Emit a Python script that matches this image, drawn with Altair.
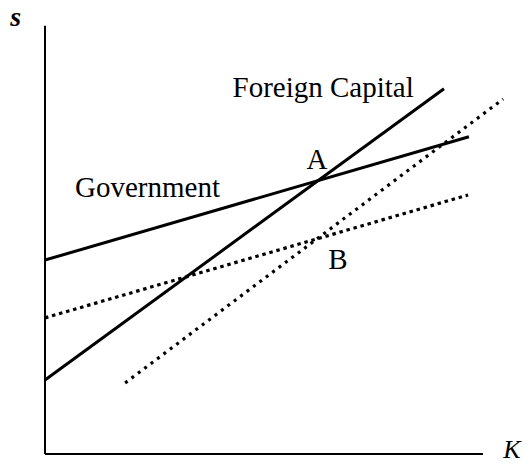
import altair as alt
import pandas as pd

# Line endpoints (K, s) (abstract units, axes run 0..10)
line_names = ["Government", "Foreign Capital", "Government shifted", "Foreign Capital shifted"]
k_start = [0.0, 0.0, 0.0, 1.83]
s_start = [4.53, 1.73, 3.18, 1.66]
k_end = [9.68, 9.11, 9.66, 10.46]
s_end = [7.41, 8.53, 6.05, 8.29]
dashes = [[1, 0], [1, 0], [3.5, 3.8], [3, 5]]

# Axis extents
axis_k_max = 10.0
axis_s_max = 10.0

# Labels
label_text = ["Foreign Capital", "Government", "A", "B"]
label_k = [6.35, 2.34, 6.21, 6.69]
label_s = [8.34, 6.00, 6.66, 4.32]

FONT = "Liberation Serif"
xs = alt.Scale(domain=[0, 10.8], nice=False, zero=False)
ys = alt.Scale(domain=[0, 10.3], nice=False, zero=False)

layers = []

# axes
axes_df = pd.DataFrame({"k": [0, 0], "s": [0, 0], "k2": [0, axis_k_max], "s2": [axis_s_max, 0]})
layers.append(
    alt.Chart(axes_df).mark_rule(color="black", strokeWidth=2, clip=False).encode(
        x=alt.X("k:Q", scale=xs, axis=None),
        y=alt.Y("s:Q", scale=ys, axis=None),
        x2="k2:Q",
        y2="s2:Q",
    )
)

for i, name in enumerate(line_names):
    df = pd.DataFrame({"k": [k_start[i], k_end[i]], "s": [s_start[i], s_end[i]], "name": [name, name]})
    mk = dict(color="black", strokeWidth=3, clip=False, strokeCap="butt")
    if dashes[i] != [1, 0]:
        mk["strokeDash"] = dashes[i]
        mk["strokeWidth"] = 3.2
    layers.append(
        alt.Chart(df).mark_line(**mk).encode(
            x=alt.X("k:Q", scale=xs, axis=None),
            y=alt.Y("s:Q", scale=ys, axis=None),
        )
    )

lab_df = pd.DataFrame({"t": label_text, "k": label_k, "s": label_s})
layers.append(
    alt.Chart(lab_df).mark_text(font=FONT, fontSize=29, color="black", baseline="alphabetic", align="center").encode(
        x=alt.X("k:Q", scale=xs, axis=None),
        y=alt.Y("s:Q", scale=ys, axis=None),
        text="t:N",
    )
)

ax_df = pd.DataFrame({"t": ["s"], "k": [-0.67], "s": [10.19]})
layers.append(
    alt.Chart(ax_df).mark_text(font=FONT, fontSize=28, fontStyle="italic", fontWeight="bold", color="black", baseline="middle", align="center").encode(
        x=alt.X("k:Q", scale=xs, axis=None),
        y=alt.Y("s:Q", scale=ys, axis=None),
        text="t:N",
    )
)
ak_df = pd.DataFrame({"t": ["K"], "k": [10.66], "s": [0.09]})
layers.append(
    alt.Chart(ak_df).mark_text(font=FONT, fontSize=26, fontStyle="italic", color="black", baseline="middle", align="center").encode(
        x=alt.X("k:Q", scale=xs, axis=None),
        y=alt.Y("s:Q", scale=ys, axis=None),
        text="t:N",
    )
)

chart = alt.layer(*layers).properties(
    width=473,
    height=441,
    padding={"left": 37, "top": 5, "right": 4, "bottom": 10},
    autosize=alt.AutoSizeParams(type="none"),
).configure_view(stroke=None)

chart.save("out.html", embed_options={"renderer": "svg", "actions": False})
